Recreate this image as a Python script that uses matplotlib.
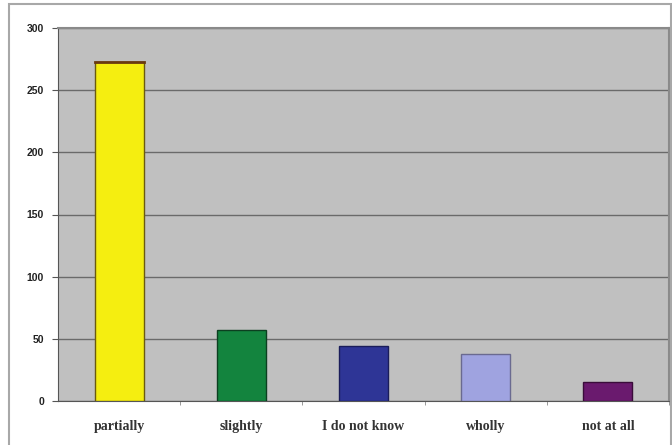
import matplotlib
matplotlib.use("Agg")
import matplotlib.pyplot as plt
from matplotlib.patches import Rectangle

categories = ["partially", "slightly", "I do not know", "wholly", "not at all"]
values = [273, 57, 44, 38, 15]
bar_colors = ["#f5ee10", "#13843e", "#2e3596", "#9fa3e0", "#6a1a6e"]
edge_colors = ["#6a5a10", "#0c3f20", "#1a1d5a", "#6a6a90", "#3a0c3a"]
yticks = [0, 50, 100, 150, 200, 250, 300]

fig = plt.figure(figsize=(6.72, 4.45), dpi=100)
fig.patch.set_facecolor("white")

# outer chart frame
fig.add_artist(Rectangle((9 / 672, -0.05), 662 / 672, 1.05 - 4 / 445,
                         transform=fig.transFigure, fill=False,
                         edgecolor="#a8a8a8", lw=1.5))

ax = fig.add_axes([58 / 672, 44 / 445, 611 / 672, 373 / 445])
ax.set_facecolor("#c0c0c0")

x = range(len(categories))
ax.bar(x, values, width=0.4, color=bar_colors, edgecolor=edge_colors,
       lw=1.0, zorder=3)
# dark cap on the tall bar
ax.plot([-0.2, 0.2], [values[0], values[0]], color="#6a3a10", lw=2, zorder=4)

ax.set_xlim(-0.5, len(categories) - 0.5)
ax.set_ylim(0, 300)
ax.set_yticks(yticks)
ax.set_yticklabels([str(t) for t in yticks], fontsize=7.5, fontweight="bold",
                   family="Liberation Sans", color="#222222")
ax.yaxis.grid(True, color="#6a6a6a", lw=1.0, zorder=1)

# category labels centred, ticks between categories
ax.set_xticks(list(x))
ax.set_xticklabels(categories, fontsize=10, fontweight="bold",
                   family="Liberation Serif", color="#333333")
ax.tick_params(axis="x", length=0, pad=14)
ax.set_xticks([i + 0.5 for i in range(len(categories))], minor=True)
ax.tick_params(axis="x", which="minor", length=3, color="#888888")
ax.tick_params(axis="y", length=4, color="#555555", pad=6)

for side in ["top", "right"]:
    ax.spines[side].set_color("#8a8a8a")
    ax.spines[side].set_linewidth(1.5)
ax.spines["left"].set_color("#555555")
ax.spines["bottom"].set_color("#555555")

fig.savefig("out.png", dpi=100)
